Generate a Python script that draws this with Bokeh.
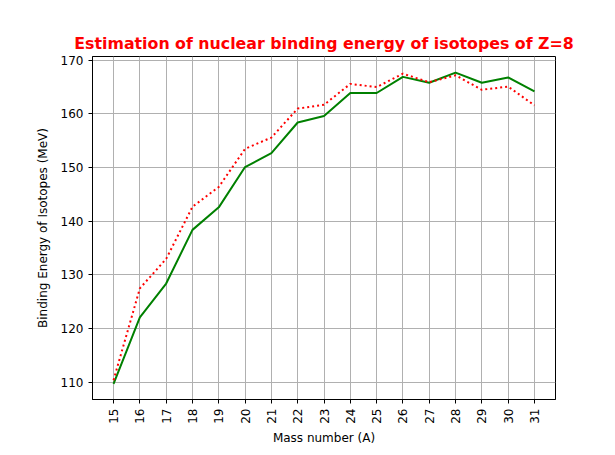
import math
from bokeh.plotting import figure
from bokeh.models import FixedTicker, Range1d
from bokeh.embed import file_html
from bokeh.resources import INLINE

mass_number = [15, 16, 17, 18, 19, 20, 21, 22, 23, 24, 25, 26, 27, 28, 29, 30, 31]
binding_green = [109.7, 122.1, 128.4, 138.4, 142.6, 150.1, 152.7, 158.4, 159.6,
                 163.9, 163.9, 166.9, 165.8, 167.7, 165.8, 166.8, 164.2]
binding_red = [110.4, 127.5, 133.0, 142.7, 146.4, 153.5, 155.6, 161.0, 161.7,
               165.6, 165.0, 167.5, 165.9, 167.2, 164.5, 165.1, 161.6]
x_ticks = list(range(15, 32))
y_ticks = [110, 120, 130, 140, 150, 160, 170]

FONT = "DejaVu Sans"

p = figure(width=607, height=447, output_backend="svg", toolbar_location=None,
           x_range=Range1d(14.2, 31.8), y_range=Range1d(106.8, 170.7),
           min_border_left=92, min_border_right=52, min_border_top=56, min_border_bottom=47)

p.title.text = "Estimation of nuclear binding energy of isotopes of Z=8"
p.title.text_color = "#ff0000"
p.title.text_font = FONT
p.title.text_font_style = "bold"
p.title.text_font_size = "15.8px"
p.title.align = "center"
p.title.standoff = 7

p.line(mass_number, binding_green, line_color="#008000", line_width=2)
p.line(mass_number, binding_red, line_color="#ff0000", line_width=2, line_dash="2 3")

p.outline_line_color = "black"
p.outline_line_width = 1

for ax in (p.xaxis[0], p.yaxis[0]):
    ax.major_label_text_font = FONT
    ax.major_label_text_font_size = "12px"
    ax.major_label_text_color = "black"
    ax.axis_label_text_font = FONT
    ax.axis_label_text_font_size = "12px"
    ax.axis_label_text_font_style = "normal"
    ax.axis_label_text_color = "black"
    ax.major_tick_in = 0
    ax.major_tick_out = 4
    ax.minor_tick_line_color = None
    ax.axis_line_color = "black"
    ax.major_tick_line_color = "black"

p.xaxis[0].ticker = FixedTicker(ticks=x_ticks)
p.yaxis[0].ticker = FixedTicker(ticks=y_ticks)
p.xaxis[0].major_label_orientation = math.pi / 2
p.xaxis[0].axis_label = "Mass number (A)"
p.yaxis[0].axis_label = "Binding Energy of Isotopes (MeV)"
p.xaxis[0].axis_label_standoff = 4
p.yaxis[0].axis_label_standoff = 8

p.xgrid.ticker = FixedTicker(ticks=x_ticks)
p.ygrid.ticker = FixedTicker(ticks=y_ticks)
p.grid.grid_line_color = "#b0b0b0"
p.grid.grid_line_width = 1

open("out.html", "w").write(file_html(p, INLINE))
